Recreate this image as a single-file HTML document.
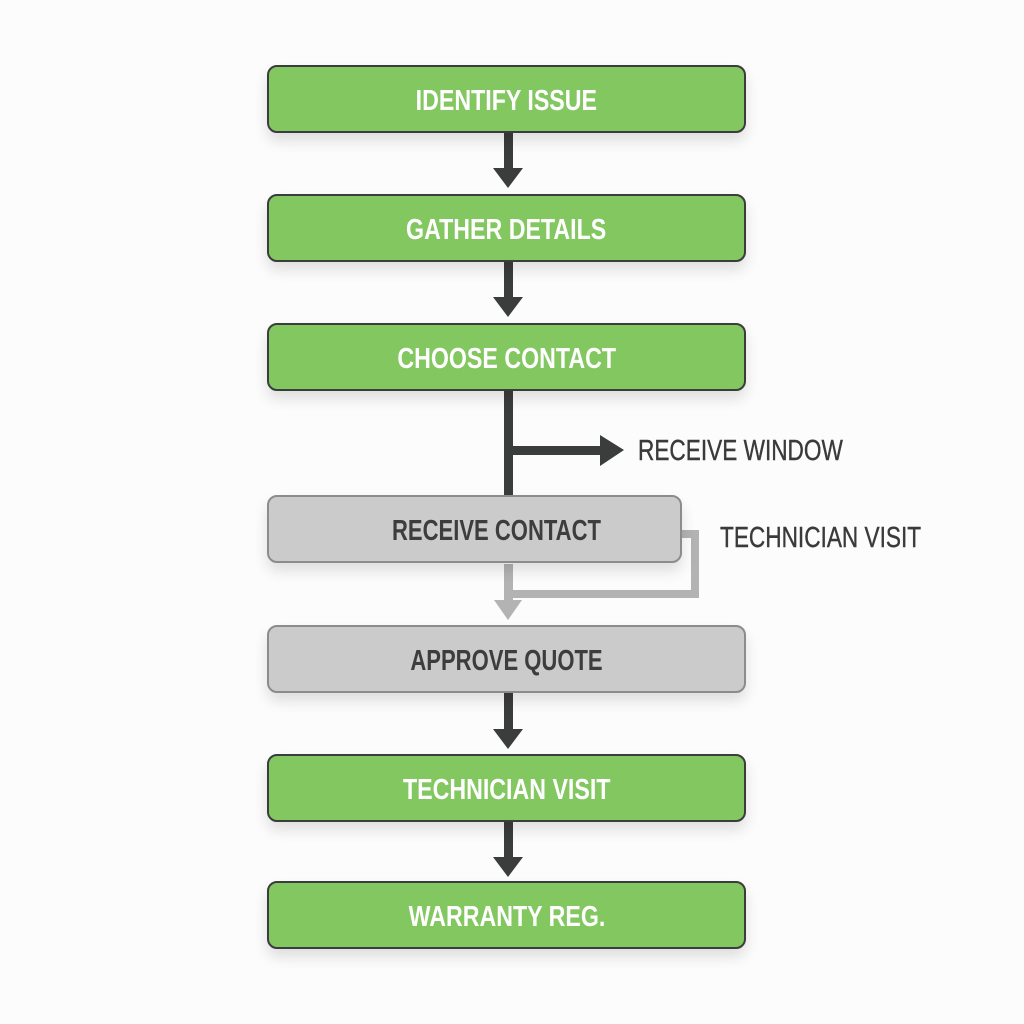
<!DOCTYPE html>
<html><head><style>
body{margin:0;width:1024px;height:1024px;background:#fcfcfc;overflow:hidden;position:relative}
.b{position:absolute;left:267px;width:475px;height:64px;border:2px solid #3a3d3c;border-radius:10px;background:#83c760;box-shadow:0 8px 14px rgba(0,0,0,0.12);display:flex;align-items:center;justify-content:center;color:#fff;font-family:"Liberation Sans",sans-serif;font-weight:bold;font-size:29px;}
.b span{display:inline-block;transform:scaleX(0.8);white-space:nowrap;position:relative;top:2px}
.g{background:#cbcbcb;border-color:#8c8c8c;color:#3d3d3d;}
.g span{transform:scaleX(0.76)}
.t{position:absolute;font-family:"Liberation Sans",sans-serif;font-size:29px;color:#3a3a3a;line-height:1;transform:scaleX(0.78);transform-origin:0 0;white-space:nowrap;-webkit-text-stroke:0.4px #3a3a3a}
</style></head><body>
<svg width="1024" height="1024" style="position:absolute;left:0;top:0">
<g fill="#3a3d3c">
<rect x="504" y="132" width="9" height="40"/><polygon points="493,168 523,168 508,188"/>
<rect x="504" y="261" width="9" height="40"/><polygon points="493,297 523,297 508,317"/>
<rect x="504" y="390" width="9" height="106"/>
<rect x="504" y="446" width="100" height="9"/><polygon points="600,435 600,466 624,450"/>
<rect x="504" y="693" width="9" height="40"/><polygon points="493,729 523,729 508,749"/>
<rect x="504" y="821" width="9" height="40"/><polygon points="493,857 523,857 508,877"/>
</g>
<g fill="#b3b3b3">
<rect x="504" y="564" width="9" height="40"/>
<rect x="682" y="530" width="17" height="8"/>
<rect x="691" y="530" width="8" height="68"/>
<rect x="504" y="590" width="195" height="8"/>
<polygon points="494,600 522,600 508,620"/>
</g>
</svg>
<div class="b" style="top:65px"><span>IDENTIFY ISSUE</span></div>
<div class="b" style="top:194px"><span>GATHER DETAILS</span></div>
<div class="b" style="top:323px"><span>CHOOSE CONTACT</span></div>
<div class="b g" style="top:495px;width:411px"><span style="left:22px">RECEIVE CONTACT</span></div>
<div class="b g" style="top:625px"><span>APPROVE QUOTE</span></div>
<div class="b" style="top:754px"><span>TECHNICIAN VISIT</span></div>
<div class="b" style="top:881px"><span>WARRANTY REG.</span></div>
<div class="t" style="left:638px;top:437px">RECEIVE WINDOW</div>
<div class="t" style="left:720px;top:524px">TECHNICIAN VISIT</div>
</body></html>
